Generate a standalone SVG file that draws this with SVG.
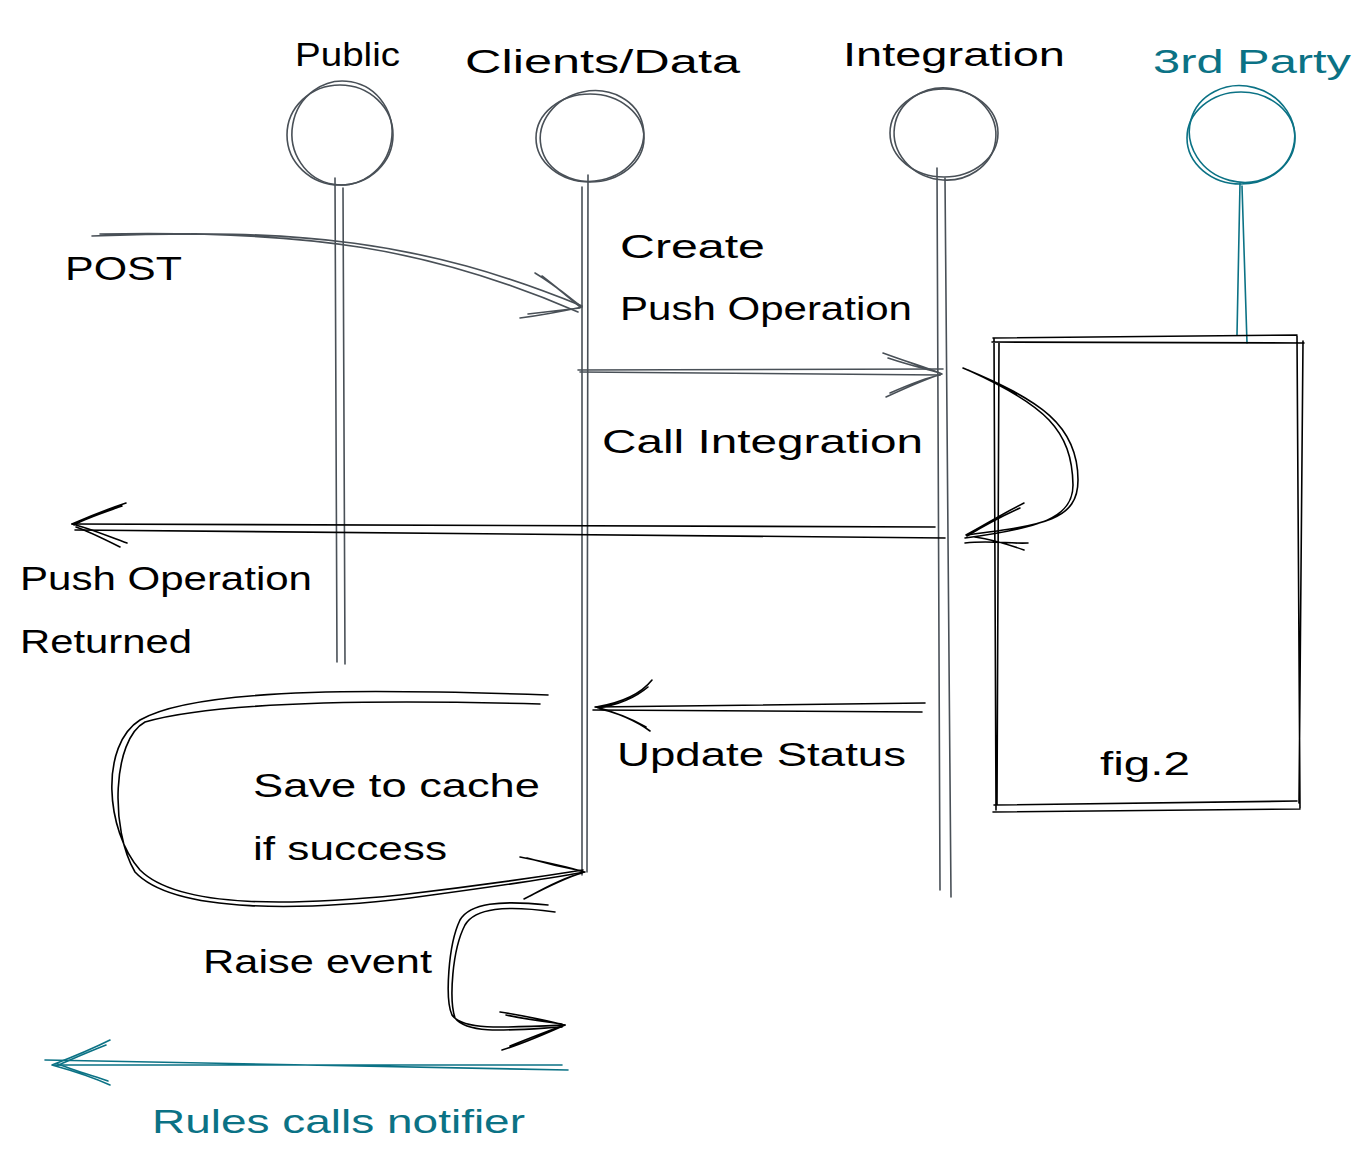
<svg xmlns="http://www.w3.org/2000/svg" width="1372" height="1171" viewBox="0 0 1372 1171">
<style>
.g{fill:none;stroke:#495057;stroke-width:1.6;stroke-linecap:round}
.k{fill:none;stroke:#000;stroke-width:1.6;stroke-linecap:round}
.t{fill:none;stroke:#0b7285;stroke-width:1.6;stroke-linecap:round}
text{font-family:"Liberation Sans","DejaVu Sans",sans-serif;font-size:34px;fill:#000}
text.tl{fill:#0b7285}
</style>
<rect width="1372" height="1171" fill="#fff"/>
<g id="public">
<ellipse class="g" cx="340" cy="135" rx="53" ry="50"/>
<ellipse class="g" cx="342" cy="133" rx="50" ry="52" transform="rotate(10 342 133)"/>
<path class="g" d="M335,178 L337,662 M343,188 L345,664"/>
<text x="295" y="66" textLength="105" lengthAdjust="spacingAndGlyphs">Public</text>
</g>
<g id="clients">
<ellipse class="g" cx="590" cy="138" rx="54" ry="44"/>
<ellipse class="g" cx="592" cy="136" rx="52" ry="45" transform="rotate(-12 592 136)"/>
<path class="g" d="M582,187 L582,875 M588,175 L587,872"/>
<text x="465" y="73" textLength="275" lengthAdjust="spacingAndGlyphs">Clients/Data</text>
</g>
<g id="integration">
<ellipse class="g" cx="944" cy="133" rx="54" ry="44"/>
<ellipse class="g" cx="945" cy="134" rx="51" ry="46" transform="rotate(8 945 134)"/>
<path class="g" d="M937,168 L940,890 M945,178 L951,897"/>
<text x="843" y="66" textLength="222" lengthAdjust="spacingAndGlyphs">Integration</text>
</g>
<g id="thirdparty">
<ellipse class="t" cx="1241" cy="138" rx="54" ry="46"/>
<ellipse class="t" cx="1242" cy="134" rx="53" ry="48" transform="rotate(15 1242 134)"/>
<path class="t" d="M1240,183 L1237,335 M1242,186 L1247,343"/>
<text class="tl" x="1153" y="73" textLength="198" lengthAdjust="spacingAndGlyphs">3rd Party</text>
</g>
<g id="box">
<path class="k" d="M993,338 L1297,335 M992,342 L1304,343 M994,338 L996,810 M999,343 L997,805 M1297,336 L1300,808 M1303,341 L1299,803 M994,805 L1297,801 M993,812 L1300,809"/>
<text x="1100" y="775" textLength="90" lengthAdjust="spacingAndGlyphs">fig.2</text>
</g>
<g id="connectors">
<path class="g" d="M92,236 C300,228 420,240 582,306 M100,234 C310,230 430,248 578,312"/>
<path class="g" d="M535,273 C555,285 570,298 582,307 M542,276 C560,290 572,300 580,307 M520,318 C550,314 568,310 582,307 M528,314 C555,311 570,309 580,308"/>
<path class="g" d="M578,370 L943,369 M580,372 L940,375"/>
<path class="g" d="M883,353 C910,363 928,368 942,374 M888,358 C912,366 930,370 940,373 M886,397 C910,386 928,378 942,374 M890,393 C915,382 930,377 940,375"/>
<path class="k" d="M963,368 C1040,400 1078,425 1078,480 C1078,520 1045,525 967,535 M968,370 C1045,405 1072,430 1073,485 C1073,518 1040,528 965,538"/>
<path class="k" d="M1024,503 C1000,515 985,525 966,535 M1020,508 C998,518 982,527 967,536 M965,543 C990,540 1010,544 1028,543 M975,537 C995,540 1010,545 1024,550"/>
<path class="k" d="M935,527 L72,524 M945,538 L75,530"/>
<path class="k" d="M126,503 C105,510 88,517 72,524 M122,506 C102,513 86,518 74,525 M127,543 C105,535 88,528 72,524 M120,547 C102,538 88,531 76,527"/>
<path class="k" d="M925,703 L595,707 M922,712 L593,710"/>
<path class="k" d="M652,680 C640,695 620,703 596,707 M648,687 C635,698 618,705 598,708 M650,731 C635,720 618,713 596,707 M646,727 C630,718 615,712 600,709"/>
<path class="k" d="M548,695 C400,690 200,685 140,720 C100,745 105,830 140,870 C180,910 300,905 400,895 C460,888 520,880 583,870 M540,704 C390,700 220,700 145,722 C112,740 110,830 135,872 C175,915 310,910 410,898 C470,890 530,882 585,872"/>
<path class="k" d="M520,857 C545,862 565,866 584,872 M527,858 C548,864 566,868 582,871 M524,899 C545,888 565,878 584,872 M530,896 C548,886 566,877 582,873"/>
<path class="k" d="M548,905 C500,900 470,903 460,920 C448,945 445,1000 452,1015 C462,1030 500,1028 565,1025 M555,912 C505,905 475,908 465,925 C452,950 449,1000 455,1018 C468,1035 510,1030 562,1027"/>
<path class="k" d="M500,1012 C525,1016 545,1020 564,1025 M506,1015 C530,1020 548,1022 562,1024 M502,1050 C525,1043 545,1034 565,1025 M510,1046 C530,1038 548,1031 562,1026"/>
<path class="t" d="M568,1070 L45,1060 M562,1065 L55,1065"/>
<path class="t" d="M110,1040 C90,1050 70,1058 52,1065 M106,1045 C88,1052 70,1060 56,1066 M110,1085 C90,1076 70,1070 52,1065 M108,1081 C90,1075 70,1069 58,1064"/>
</g>
<g id="labels">
<text x="65" y="280" textLength="117" lengthAdjust="spacingAndGlyphs">POST</text>
<text x="620" y="258" textLength="145" lengthAdjust="spacingAndGlyphs">Create</text>
<text x="620" y="320" textLength="292" lengthAdjust="spacingAndGlyphs">Push Operation</text>
<text x="602" y="453" textLength="321" lengthAdjust="spacingAndGlyphs">Call Integration</text>
<text x="20" y="590" textLength="292" lengthAdjust="spacingAndGlyphs">Push Operation</text>
<text x="20" y="653" textLength="172" lengthAdjust="spacingAndGlyphs">Returned</text>
<text x="617" y="766" textLength="289" lengthAdjust="spacingAndGlyphs">Update Status</text>
<text x="253" y="797" textLength="287" lengthAdjust="spacingAndGlyphs">Save to cache</text>
<text x="253" y="860" textLength="194" lengthAdjust="spacingAndGlyphs">if success</text>
<text x="203" y="973" textLength="229" lengthAdjust="spacingAndGlyphs">Raise event</text>
<text class="tl" x="152" y="1133" textLength="373" lengthAdjust="spacingAndGlyphs">Rules calls notifier</text>
</g>
</svg>
